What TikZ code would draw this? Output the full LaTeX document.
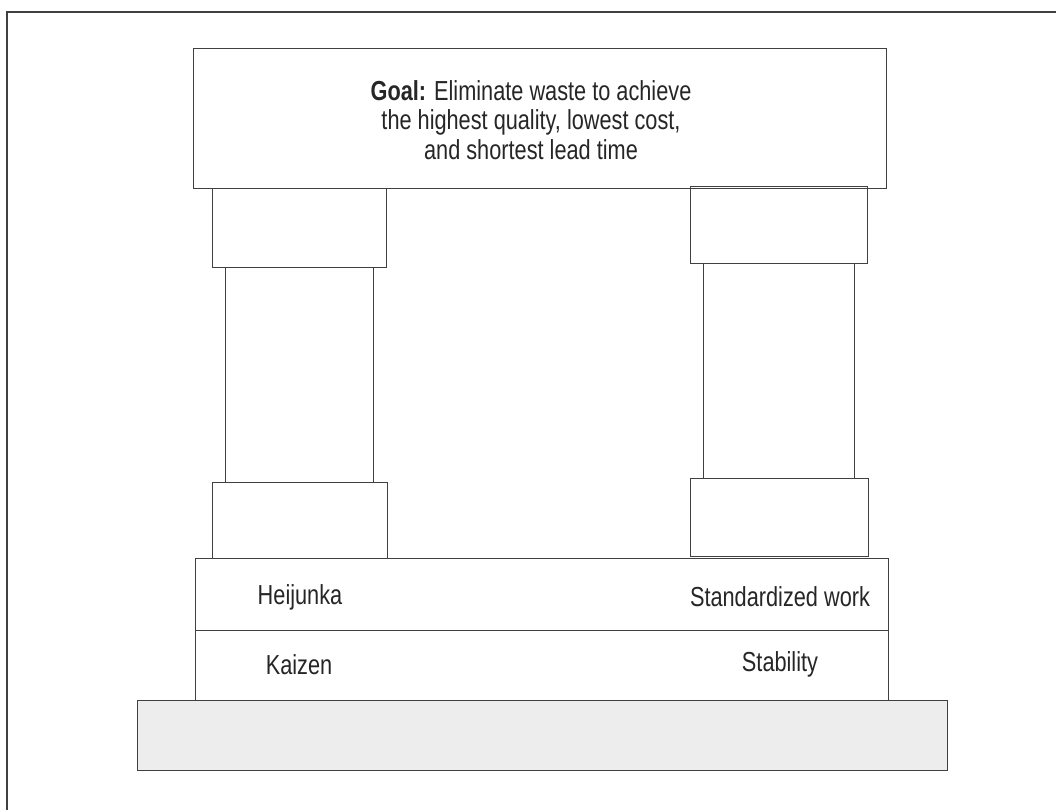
\documentclass[tikz,border=0pt]{standalone}
\usepackage{fontspec}
\setmainfont{Liberation Sans}[FakeStretch=0.79]
\begin{document}
\begin{tikzpicture}[x=1pt,y=-1pt,
  frameline/.style={draw=black!75,line width=1.3pt},
  block/.style={frameline,rectangle,inner sep=0pt,anchor=north west},
  label/.style={font=\fontsize{27.5}{29.5}\selectfont,text=black!85,inner sep=0pt}]
\useasboundingbox (0,0) rectangle (1056,810);
\fill[white] (0,0) rectangle (1056,810);

% page rule around the figure
\coordinate (ftl) at (7,12);
\coordinate (ftr) at (1056,12);
\coordinate (fbl) at (7,810);
\draw[frameline] (ftr) -- (ftl) -- (fbl);

% roof: the goal
\node[block,minimum width=693pt,minimum height=140pt] (goal) at (193,48) {};
\node[label,align=center] (goaltext) at (531,120)
  {\textbf{Goal:} Eliminate waste to achieve\\the highest quality, lowest cost,\\and shortest lead time};

% left pillar
\node[block,minimum width=174pt,minimum height=79pt] (lcap) at (212,188) {};
\node[block,minimum width=148pt,minimum height=215pt] (lshaft) at (225,267) {};
\node[block,minimum width=175pt,minimum height=76pt] (lfoot) at (212,482) {};

% right pillar
\node[block,minimum width=177pt,minimum height=77pt] (rcap) at (690,186) {};
\node[block,minimum width=151pt,minimum height=215pt] (rshaft) at (703,263) {};
\node[block,minimum width=178pt,minimum height=78pt] (rfoot) at (690,478) {};

% floor with its two rows
\node[block,minimum width=693pt,minimum height=72pt] (upper) at (195,558) {};
\node[block,minimum width=693pt,minimum height=70pt] (lower) at (195,630) {};
\node[label] (heij) at (300,597) {Heijunka};
\node[label] (stdw) at (780,597) {Standardized work};
\node[label] (kaiz) at (299,665) {Kaizen};
\node[label] (stab) at (780,664) {Stability};

% foundation
\node[block,fill=black!7,minimum width=810pt,minimum height=70pt] (base) at (137,700) {};
\end{tikzpicture}
\end{document}
